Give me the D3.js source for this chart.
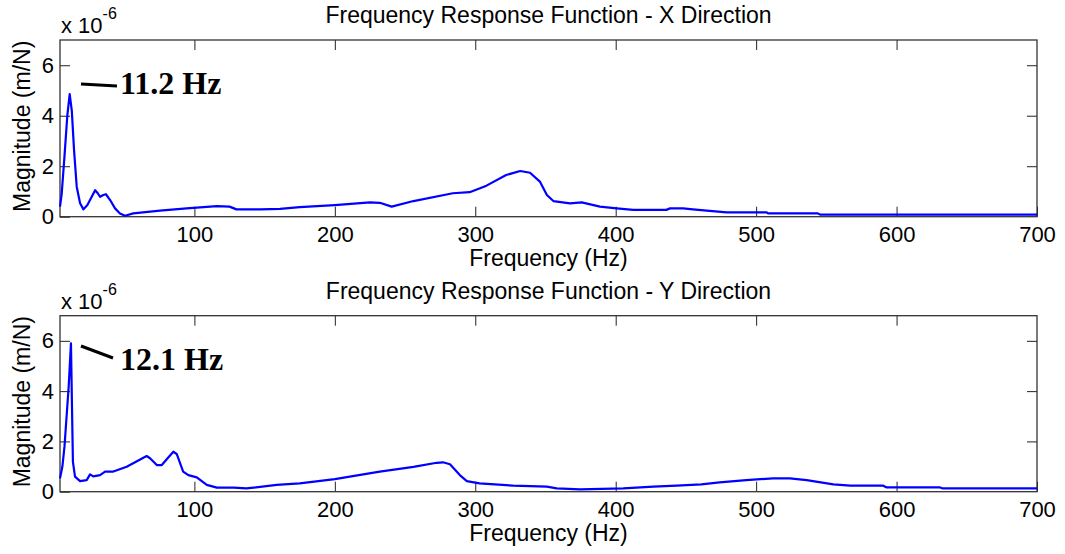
<!DOCTYPE html>
<html><head><meta charset="utf-8">
<script src="https://cdn.jsdelivr.net/npm/d3@7"></script>
<style>
body{margin:0;background:#fff;}
</style></head>
<body>
<svg id="c" width="1065" height="554"></svg>
<script>
// ---- data ----
const xTicks = [100,200,300,400,500,600,700];
const yTicks = [0,2,4,6];
const titles = ["Frequency Response Function - X Direction","Frequency Response Function - Y Direction"];
const peakLabels = ["11.2 Hz","12.1 Hz"];

const freqX = [4.3,5.5,7.5,9.5,11.2,12.7,14.3,16.2,18.6,21,23.8,26.9,29.3,31.2,32.8,35.2,37,40,43.5,47,50.6,56.5,75.5,94.5,116,125,130,147,161,175,200,225,232,240.5,256,284,296,308,322,332,339,346,351,355.6,367.5,375.8,388.8,400.7,412.5,436,438.7,448,455,464.8,479,507.5,508.5,544,545.5,700];
const magX  = [0.40,0.9,2.4,4.0,4.86,4.2,2.64,1.19,0.53,0.29,0.46,0.79,1.05,0.93,0.79,0.86,0.89,0.66,0.33,0.13,0.04,0.13,0.24,0.33,0.42,0.40,0.29,0.29,0.31,0.38,0.46,0.57,0.55,0.40,0.62,0.93,0.97,1.23,1.65,1.81,1.74,1.39,0.86,0.62,0.53,0.57,0.40,0.33,0.27,0.27,0.33,0.33,0.29,0.24,0.17,0.17,0.13,0.13,0.08,0.08];

const freqY = [4.3,6,7.5,9,10.5,12.1,12.8,13.5,15,18.6,23.3,25.7,28,32.8,36.4,42.3,51.8,66,68.4,73.2,76.8,80.3,85,87.4,92,95.7,101.7,108.8,116,128,137,158.6,175,200,232,256,272.5,277,282,289,294,303,327,351,358,374.6,405.4,426.8,443.4,461,474,493,512,524,536,555,567,590.5,593,631,633,700];
const magY  = [0.53,1.0,1.8,3.0,4.2,5.9,3.5,1.19,0.6,0.42,0.46,0.69,0.61,0.66,0.8,0.8,0.99,1.42,1.33,1.06,1.06,1.29,1.59,1.5,0.8,0.66,0.57,0.27,0.16,0.16,0.13,0.27,0.33,0.5,0.8,0.99,1.15,1.17,1.09,0.66,0.42,0.33,0.24,0.2,0.13,0.09,0.13,0.2,0.24,0.29,0.37,0.46,0.53,0.53,0.46,0.29,0.24,0.24,0.17,0.17,0.13,0.13];

// ---- layout ----
const svg = d3.select("#c");
const L = 60, R = 1037;
const SANS = "'Liberation Sans', Arial, sans-serif";
const SERIF = "'Liberation Serif', 'Times New Roman', serif";
const panels = [
  {top:40, bottom:216.7, f:freqX, m:magX, title:titles[0], label:peakLabels[0]},
  {top:315.7, bottom:491.7, f:freqY, m:magY, title:titles[1], label:peakLabels[1]}
];
const FS = 22, LFS = 23;

panels.forEach((p,i)=>{
  const x = d3.scaleLinear().domain([4.3,700]).range([L,R]);
  const y = d3.scaleLinear().domain([0,7]).range([p.bottom,p.top]);
  const g = svg.append("g");

  const ax = (a)=>a.tickSizeOuter(0);
  g.append("g").attr("transform",`translate(0,${p.bottom})`)
    .call(ax(d3.axisBottom(x).tickValues(xTicks).tickSize(-10).tickPadding(10).tickFormat(d3.format("d"))));
  g.append("g").attr("transform",`translate(0,${p.top})`)
    .call(ax(d3.axisTop(x).tickValues(xTicks.filter(d=>d<700)).tickSize(-10).tickFormat("")));
  g.append("g").attr("transform",`translate(${L},0)`)
    .call(ax(d3.axisLeft(y).tickValues(yTicks).tickSize(-10).tickPadding(6).tickFormat(d3.format("d"))));
  g.append("g").attr("transform",`translate(${R},0)`)
    .call(ax(d3.axisRight(y).tickValues(yTicks.filter(d=>d>0)).tickSize(-10).tickFormat("")));
  g.selectAll(".domain").remove();
  g.selectAll(".tick line").attr("stroke","#222").attr("stroke-width",1);
  g.selectAll(".tick text").style("font-size",FS+"px").style("font-family",SANS).attr("fill","#000");

  g.append("rect").attr("x",L).attr("y",p.top).attr("width",R-L).attr("height",p.bottom-p.top)
    .attr("fill","none").attr("stroke","#333").attr("stroke-width",1.3);

  const line = d3.line().x((d,k)=>x(p.f[k])).y((d,k)=>y(p.m[k]));
  g.append("path").datum(p.m).attr("d",line).attr("fill","none")
    .attr("stroke","#0000ff").attr("stroke-width",2.2).attr("stroke-linejoin","round");

  const txt = (sel)=>sel.style("font-family",SANS).style("font-size",LFS+"px").attr("fill","#000");
  // title
  g.append("text").attr("x",(L+R)/2).attr("y",p.top-17).attr("text-anchor","middle").call(txt).text(p.title);
  // x label
  g.append("text").attr("x",(L+R)/2).attr("y",p.bottom+49.5).attr("text-anchor","middle").call(txt).text("Frequency (Hz)");
  // y label
  g.append("text").attr("transform",`translate(30,${(p.top+p.bottom)/2-2}) rotate(-90)`)
    .attr("text-anchor","middle").call(txt).text("Magnitude (m/N)");
  // exponent
  const ex = g.append("text").attr("x",61).attr("y",p.top-7).call(txt).style("font-size",FS+"px");
  ex.append("tspan").text("x 10");
  ex.append("tspan").attr("dy",-14).style("font-size","16px").text("-6");

  // annotation
  const ann = i===0 ? {x1:81,y1:84,x2:117,y2:86,tx:120,ty:93.5} : {x1:81,y1:346,x2:113,y2:358,tx:120,ty:369.5};
  g.append("line").attr("x1",ann.x1).attr("y1",ann.y1).attr("x2",ann.x2).attr("y2",ann.y2)
    .attr("stroke","#000").attr("stroke-width",3);
  g.append("text").attr("x",ann.tx).attr("y",ann.ty).style("font-family",SERIF)
    .style("font-weight","bold").style("font-size","32px").attr("fill","#000").text(p.label);
});
</script>
</body></html>
